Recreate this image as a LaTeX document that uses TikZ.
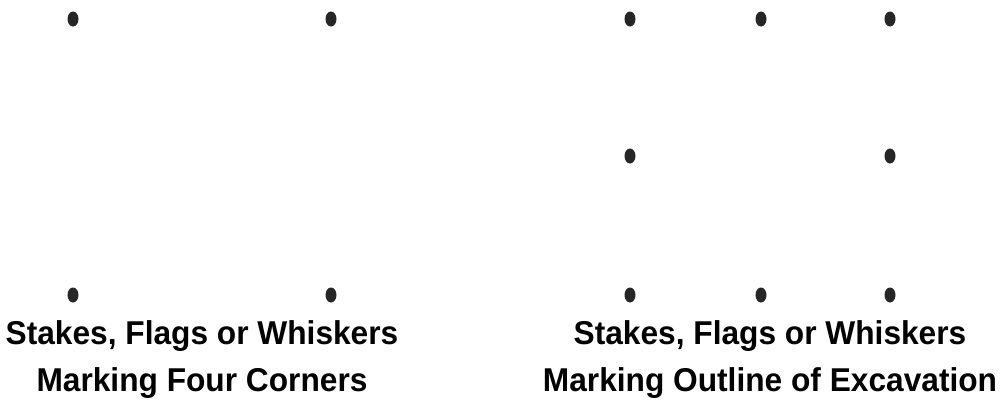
\documentclass[tikz,border=0pt]{standalone}
\usepackage{fontspec}
\setmainfont{Liberation Sans}[FakeStretch=0.96]
\usetikzlibrary{shapes.geometric}
\begin{document}
\begin{tikzpicture}[
    x=1pt,y=-1pt,
    stake/.style   = {ellipse,fill=black!85,inner sep=0pt,minimum width=11pt,
                      minimum height=15pt},
    caption/.style = {font=\fontsize{33}{47}\selectfont\bfseries,align=center,
                      inner sep=0pt,anchor=north},
  ]
  \useasboundingbox (0,0) rectangle (1001,410);

  % four corners
  \node[stake] (ftl) at (73,19)  {};
  \node[stake] (ftr) at (331,19) {};
  \node[stake] (fbl) at (73,295) {};
  \node[stake] (fbr) at (331,295){};

  % outline of excavation
  \foreach \n/\x in {1/630,2/761,3/890} {
    \node[stake] (ot\n) at (\x,19)  {};
    \node[stake] (ob\n) at (\x,295) {};
  }
  \node[stake] (oml) at (630,156) {};
  \node[stake] (omr) at (890,156) {};

  \node[caption] (capl) at (202,320)
       {Stakes, Flags or Whiskers\\Marking Four Corners};
  \node[caption] (capr) at (770,320)
       {Stakes, Flags or Whiskers\\Marking Outline of Excavation};

\end{tikzpicture}
\end{document}
